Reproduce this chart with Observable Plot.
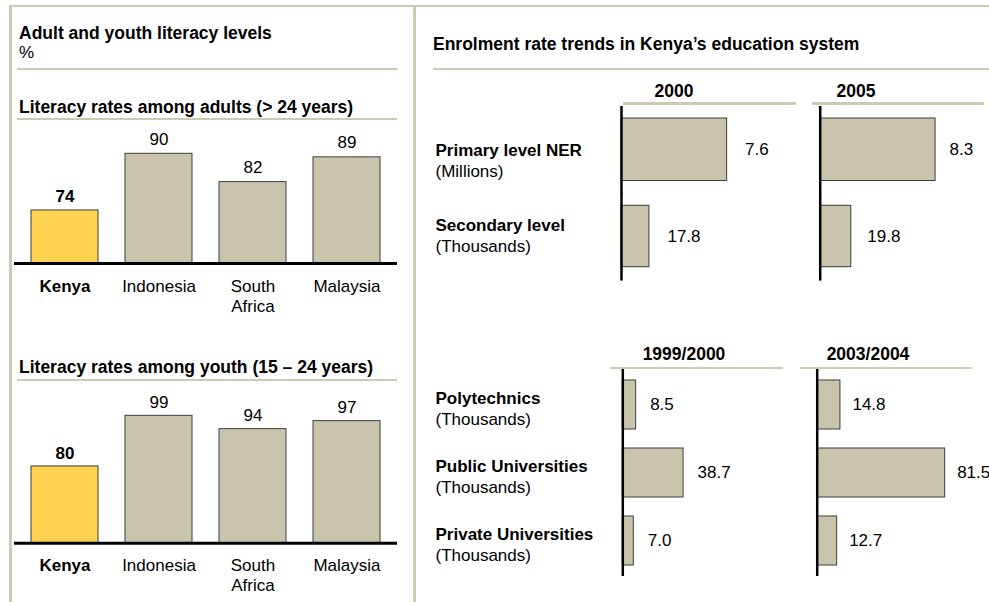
<!DOCTYPE html>
<html><head><meta charset="utf-8">
<script src="https://cdn.jsdelivr.net/npm/d3@7"></script>
<script src="https://cdn.jsdelivr.net/npm/@observablehq/plot@0.6"></script>
<style>
body{margin:0;background:#fff;font-family:"Liberation Sans",Arial,sans-serif;color:#000}
#root{position:relative;width:989px;height:602px;overflow:hidden;background:#fff}
.t{position:absolute;font-size:17px;line-height:20px;white-space:nowrap}
.b{font-weight:bold;font-size:17.5px}
.ln{position:absolute;background:#cdc9b3}
.pl{position:absolute}
</style></head><body><div id="root"></div>
<script>
// ---- data ----
const countries = ["Kenya", "Indonesia", "South Africa", "Malaysia"];
const countryLabels = ["Kenya", "Indonesia", "South\nAfrica", "Malaysia"];
const adultLiteracy = [74, 90, 82, 89];
const youthLiteracy = [80, 99, 94, 97];

const topYears = ["2000", "2005"];
const topLevels = ["Primary level NER", "Secondary level"];
const topUnits = ["(Millions)", "(Thousands)"];
const primaryNER = [7.6, 8.3];     // millions, 2000 / 2005
const secondaryEnrol = [17.8, 19.8]; // thousands, 2000 / 2005

const tertYears = ["1999/2000", "2003/2004"];
const tertLevels = ["Polytechnics", "Public Universities", "Private Universities"];
const tertUnits = ["(Thousands)", "(Thousands)", "(Thousands)"];
const tert1999 = [8.5, 38.7, 7.0];
const tert2003 = [14.8, 81.5, 12.7];

// ---- style ----
const FONT = "'Liberation Sans', Arial, sans-serif";
const BEIGE = "#c9c5ad";
const YELLOW = "#fed34f";
const EDGE = "#3c3c3c";
const root = document.getElementById("root");

function put(el, left, top) {
  el.classList.add("pl");
  el.style.left = left + "px";
  el.style.top = top + "px";
  root.appendChild(el);
}
function text(str, left, top, cls, extra) {
  const d = document.createElement("div");
  d.className = "t " + (cls || "");
  d.textContent = str;
  d.style.left = left + "px";
  d.style.top = top + "px";
  if (extra) Object.assign(d.style, extra);
  root.appendChild(d);
}
function line(left, top, width, height) {
  const d = document.createElement("div");
  d.className = "ln";
  Object.assign(d.style, {left: left + "px", top: top + "px", width: width + "px", height: height + "px"});
  root.appendChild(d);
}

// frame
line(9, 5, 980, 2);
line(9, 5, 3, 597);
line(413, 5, 3, 597);
// separators
line(17, 68, 380, 2);
line(17, 117.5, 380, 2);
line(17, 378.5, 380, 2);
line(433, 68, 556, 2);
line(623, 102, 173, 2.5);
line(812, 102, 172, 2.5);
line(611, 366.5, 172, 2.5);
line(800, 366.5, 172, 2.5);

// titles
text("Adult and youth literacy levels", 19, 23, "b");
text("%", 19, 43);
text("Literacy rates among adults (> 24 years)", 19, 97, "b");
text("Literacy rates among youth (15 \u2013 24 years)", 19, 357, "b");
text("Enrolment rate trends in Kenya\u2019s education system", 433, 34, "b");
text(topYears[0], 624, 81, "b", {width: "100px", textAlign: "center"});
text(topYears[1], 806, 81, "b", {width: "100px", textAlign: "center"});
text(tertYears[0], 634, 344, "b", {width: "100px", textAlign: "center"});
text(tertYears[1], 818, 344, "b", {width: "100px", textAlign: "center"});

// ---- literacy bar charts ----
function literacyChart(values, domain, height, marginTop, marginBottom, valueDy) {
  const data = countries.map((c, i) => ({country: c, label: countryLabels[i], value: values[i]}));
  const kenya = data.filter(d => d.country === "Kenya");
  const others = data.filter(d => d.country !== "Kenya");
  return Plot.plot({
    width: 383, height, marginTop, marginBottom, marginLeft: 0, marginRight: 0,
    style: {fontFamily: FONT, fontSize: "17px", overflow: "visible", background: "transparent"},
    x: {domain: countries, paddingInner: 0.284, paddingOuter: 0.158, axis: null},
    y: {domain, clamp: true, axis: null},
    marks: [
      Plot.barY(kenya, {x: "country", y: "value", fill: YELLOW, stroke: EDGE, strokeWidth: 1}),
      Plot.barY(others, {x: "country", y: "value", fill: BEIGE, stroke: EDGE, strokeWidth: 1}),
      Plot.ruleY([domain[0]], {stroke: "#000", strokeWidth: 3}),
      Plot.text(kenya, {x: "country", y: "value", text: d => String(d.value), lineAnchor: "bottom", dy: -valueDy + 1, fontSize: 17, fontWeight: "bold"}),
      Plot.text(others, {x: "country", y: "value", text: d => String(d.value), lineAnchor: "bottom", dy: -valueDy, fontSize: 17}),
      Plot.text(kenya, {x: "country", frameAnchor: "bottom", text: "label", lineAnchor: "top", dy: 14, lineHeight: 1.18, fontSize: 17, fontWeight: "bold"}),
      Plot.text(others, {x: "country", frameAnchor: "bottom", text: "label", lineAnchor: "top", dy: 14, lineHeight: 1.18, fontSize: 17})
    ]
  });
}
put(literacyChart(adultLiteracy, [59.02, 90], 195, 28.3, 57, 9), 14, 125);
put(literacyChart(youthLiteracy, [51.2, 99], 215, 30.3, 57.3, 8), 14, 385);

// ---- enrolment horizontal bars ----
function enrolChart({levels, units, values, width, height, marginLeft, xDomain, xLen, band, insets, showLabels, labelDy, valueDx}) {
  const data = levels.map((l, i) => ({level: l, unit: units[i], value: values[i]}));
  const marks = [
    Plot.barX(data, {y: "level", x: "value", fill: BEIGE, stroke: EDGE, strokeWidth: 1,
      insetTop: insets[0], insetBottom: insets[1]}),
    Plot.ruleX([0], {stroke: "#000", strokeWidth: 2.5}),
    Plot.text(data, {y: "level", x: "value", text: d => d.value.toFixed(1), textAnchor: "start", dx: valueDx, fontSize: 17})
  ];
  if (showLabels) {
    marks.push(
      Plot.text(data, {y: "level", frameAnchor: "left", text: "level", textAnchor: "start", dx: -marginLeft + 4, dy: labelDy[0], fontSize: 17, fontWeight: "bold"}),
      Plot.text(data, {y: "level", frameAnchor: "left", text: "unit", textAnchor: "start", dx: -marginLeft + 4, dy: labelDy[1], fontSize: 17})
    );
  }
  return Plot.plot({
    width, height, marginLeft, marginRight: 0, marginTop: 0, marginBottom: 0,
    style: {fontFamily: FONT, fontSize: "17px", overflow: "visible", background: "transparent"},
    x: {domain: xDomain, range: [marginLeft, marginLeft + xLen], axis: null},
    y: {domain: levels, axis: null, ...band},
    marks
  });
}

const oneRow = {padding: 0};
const millions = {xDomain: [0, 10], xLen: 139};
const thousands = {xDomain: [0, 100], xLen: 157};

put(enrolChart({levels: [topLevels[0]], units: [topUnits[0]], values: [primaryNER[0]], width: 369, height: 87.7,
  marginLeft: 190, ...millions, band: oneRow, insets: [12, 12.5], showLabels: true, labelDy: [0.5, 22], valueDx: 18}), 431, 105.7);
put(enrolChart({levels: [topLevels[1]], units: [topUnits[1]], values: [secondaryEnrol[0]], width: 369, height: 87.6,
  marginLeft: 190, ...thousands, band: oneRow, insets: [12.3, 13.3], showLabels: true, labelDy: [-11, 10], valueDx: 18}), 431, 193.4);
put(enrolChart({levels: [topLevels[0]], units: [topUnits[0]], values: [primaryNER[1]], width: 189, height: 87.7,
  marginLeft: 19.7, ...millions, band: oneRow, insets: [12, 12.5], showLabels: false, valueDx: 14}), 800, 105.7);
put(enrolChart({levels: [topLevels[1]], units: [topUnits[1]], values: [secondaryEnrol[1]], width: 189, height: 87.6,
  marginLeft: 19.7, ...thousands, band: oneRow, insets: [12.3, 13.3], showLabels: false, valueDx: 16}), 800, 193.4);

const tertBand = {paddingInner: 0.285, paddingOuter: 0.153};
put(enrolChart({levels: tertLevels, units: tertUnits, values: tert1999, width: 369, height: 207,
  marginLeft: 191.3, ...thousands, band: tertBand, insets: [0, 0], showLabels: true, labelDy: [-6, 15], valueDx: 14}), 431, 369);
put(enrolChart({levels: tertLevels, units: tertUnits, values: tert2003, width: 189, height: 207,
  marginLeft: 16.7, ...thousands, band: tertBand, insets: [0, 0], showLabels: false, valueDx: 12}), 800, 369);
</script>
</body></html>
